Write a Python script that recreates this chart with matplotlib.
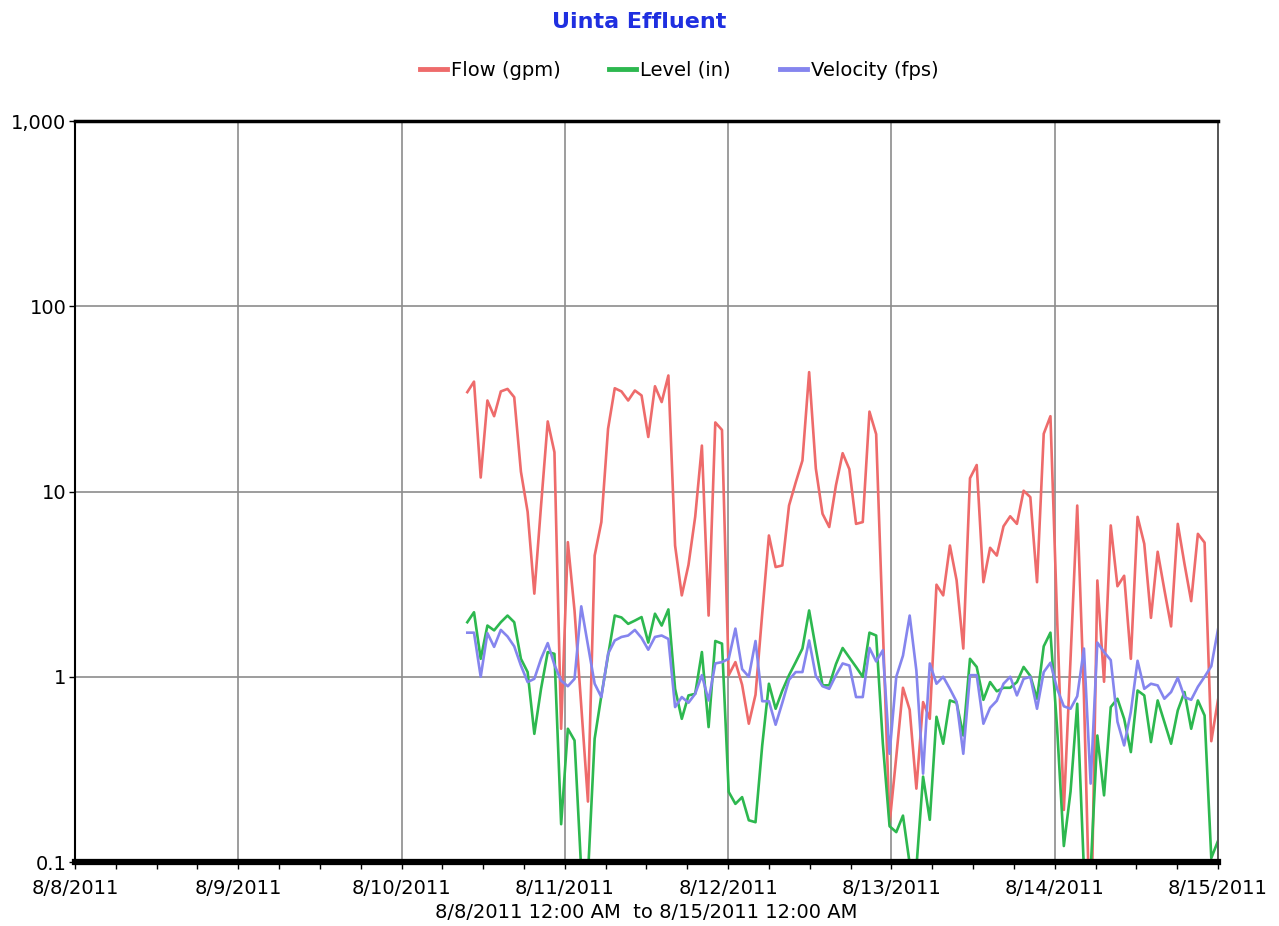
"""Uinta Effluent flow monitoring chart (log scale, one week window)."""

import matplotlib

matplotlib.use("Agg")
import matplotlib.dates as mdates
import matplotlib.pyplot as plt
import pandas as pd

# Readings, roughly hourly from 8/10 morning to 8/15 midnight
times = pd.date_range("2011-08-10 09:40", "2011-08-15 00:00", periods=113)

flow_gpm = [
    34.4, 39.2, 11.9, 31.0, 25.5, 34.7, 35.8, 32.3, 12.8, 7.77,
    2.81, 8.37, 23.9, 16.3, 0.524, 5.33, 2.27, 0.697, 0.212, 4.51,
    6.84, 21.8, 36.1, 34.7, 31.0, 35.1, 33.0, 19.7, 37.0, 30.4,
    42.3, 5.11, 2.75, 4.02, 7.30, 17.7, 2.14, 23.6, 21.5, 1.02,
    1.20, 0.905, 0.558, 0.80, 2.19, 5.79, 3.91, 3.99, 8.40, 11.2,
    14.7, 44.1, 13.3, 7.58, 6.43, 10.8, 16.1, 13.2, 6.69, 6.84,
    27.0, 20.4, 1.82, 0.161, 0.370, 0.872, 0.664, 0.249, 0.730, 0.593,
    3.14, 2.75, 5.11, 3.32, 1.42, 11.8, 13.9, 3.24, 4.97, 4.51,
    6.49, 7.35, 6.69, 10.1, 9.33, 3.24, 20.5, 25.5, 2.06, 0.191,
    1.25, 8.40, 0.79, 0.03, 3.31, 0.94, 6.56, 3.08, 3.51, 1.25,
    7.30, 5.22, 2.08, 4.73, 2.95, 1.87, 6.69, 4.07, 2.56, 5.91,
    5.30, 0.449, 0.75,
]

level_in = [
    1.97, 2.23, 1.25, 1.89, 1.78, 1.97, 2.14, 1.97, 1.25, 1.06,
    0.492, 0.861, 1.36, 1.33, 0.160, 0.524, 0.453, 0.09, 0.085, 0.463,
    0.79, 1.30, 2.14, 2.09, 1.93, 2.01, 2.10, 1.53, 2.19, 1.89,
    2.31, 0.861, 0.593, 0.793, 0.809, 1.36, 0.535, 1.56, 1.51, 0.239,
    0.206, 0.224, 0.168, 0.164, 0.426, 0.917, 0.672, 0.843, 1.02, 1.20,
    1.42, 2.28, 1.42, 0.898, 0.90, 1.17, 1.43, 1.27, 1.13, 1.00,
    1.73, 1.67, 0.435, 0.156, 0.145, 0.178, 0.098, 0.093, 0.289, 0.169,
    0.608, 0.435, 0.745, 0.724, 0.482, 1.25, 1.13, 0.751, 0.936, 0.835,
    0.872, 0.872, 0.936, 1.13, 1.01, 0.761, 1.46, 1.73, 0.524, 0.122,
    0.240, 0.715, 0.09, 0.09, 0.482, 0.229, 0.686, 0.761, 0.593, 0.392,
    0.843, 0.793, 0.444, 0.745, 0.570, 0.435, 0.658, 0.827, 0.524, 0.745,
    0.618, 0.105, 0.13,
]

velocity_fps = [
    1.73, 1.73, 1.00, 1.72, 1.45, 1.79, 1.65, 1.46, 1.15, 0.936,
    0.975, 1.25, 1.52, 1.16, 0.952, 0.889, 0.975, 2.40, 1.48, 0.917,
    0.777, 1.33, 1.57, 1.64, 1.67, 1.79, 1.62, 1.40, 1.64, 1.67,
    1.60, 0.686, 0.777, 0.724, 0.809, 1.02, 0.745, 1.18, 1.20, 1.25,
    1.82, 1.10, 1.00, 1.56, 0.738, 0.738, 0.551, 0.724, 0.963, 1.06,
    1.06, 1.57, 1.01, 0.889, 0.861, 1.02, 1.18, 1.15, 0.777, 0.777,
    1.43, 1.21, 1.39, 0.384, 1.00, 1.30, 2.14, 1.08, 0.300, 1.18,
    0.917, 1.00, 0.861, 0.733, 0.384, 1.02, 1.02, 0.558, 0.680, 0.742,
    0.917, 1.00, 0.793, 0.975, 1.00, 0.672, 1.06, 1.19, 0.861, 0.693,
    0.672, 0.785, 1.42, 0.265, 1.53, 1.36, 1.23, 0.572, 0.426, 0.647,
    1.22, 0.861, 0.917, 0.898, 0.761, 0.827, 0.988, 0.777, 0.751, 0.883,
    1.00, 1.14, 1.80,
]

day_ticks = pd.date_range("2011-08-08", "2011-08-15", freq="D")
day_labels = ["8/8/2011", "8/9/2011", "8/10/2011", "8/11/2011",
              "8/12/2011", "8/13/2011", "8/14/2011", "8/15/2011"]
y_ticks = [0.1, 1, 10, 100, 1000]
y_labels = ["0.1", "1", "10", "100", "1,000"]

RED = "#ee6b6b"
GREEN = "#2db84f"
BLUE = "#8585ee"

fig = plt.figure(figsize=(12.79, 9.26), dpi=100)
ax = fig.add_axes([0.0586, 0.0691, 0.8937, 0.8002])

ax.plot(times, flow_gpm, color=RED, lw=1.9, label="Flow (gpm)")
ax.plot(times, level_in, color=GREEN, lw=1.9, label="Level (in)")
ax.plot(times, velocity_fps, color=BLUE, lw=1.9, label="Velocity (fps)")

ax.set_yscale("log")
ax.set_ylim(0.1, 1000)
ax.set_xlim(day_ticks[0], day_ticks[-1])

ax.set_yticks(y_ticks)
ax.set_yticklabels(y_labels)
ax.yaxis.set_minor_locator(matplotlib.ticker.NullLocator())
ax.set_xticks(day_ticks)
ax.set_xticklabels(day_labels)
ax.xaxis.set_minor_locator(mdates.HourLocator(byhour=[6, 12, 18]))

ax.grid(True, which="major", color="#8c8c8c", lw=1.2)
ax.set_axisbelow(True)

ax.tick_params(axis="x", which="major", labelsize=14, length=5, width=1, pad=7)
ax.tick_params(axis="x", which="minor", length=5, width=1)
ax.tick_params(axis="y", labelsize=14, length=4, width=1, pad=2)

ax.spines["top"].set_linewidth(2.5)
ax.spines["bottom"].set_linewidth(4.5)
ax.spines["left"].set_linewidth(1.5)
ax.spines["right"].set_color("#555555")
ax.spines["right"].set_linewidth(1.4)

fig.text(0.5, 1 - 22 / 926, "Uinta Effluent", ha="center", va="center",
         fontsize=16, fontweight="bold", color="#1f2fe0")

fig.legend(loc="center", bbox_to_anchor=(679 / 1279, 1 - 70 / 926), ncol=3,
           frameon=False, fontsize=14, handlelength=1.4, handletextpad=0.2,
           columnspacing=2.5)
for line in fig.legends[0].get_lines():
    line.set_linewidth(3.5)

fig.text(0.505, 1 - 912 / 926, "8/8/2011 12:00 AM  to 8/15/2011 12:00 AM",
         ha="center", va="center", fontsize=14)

fig.savefig("out.png", dpi=100)
